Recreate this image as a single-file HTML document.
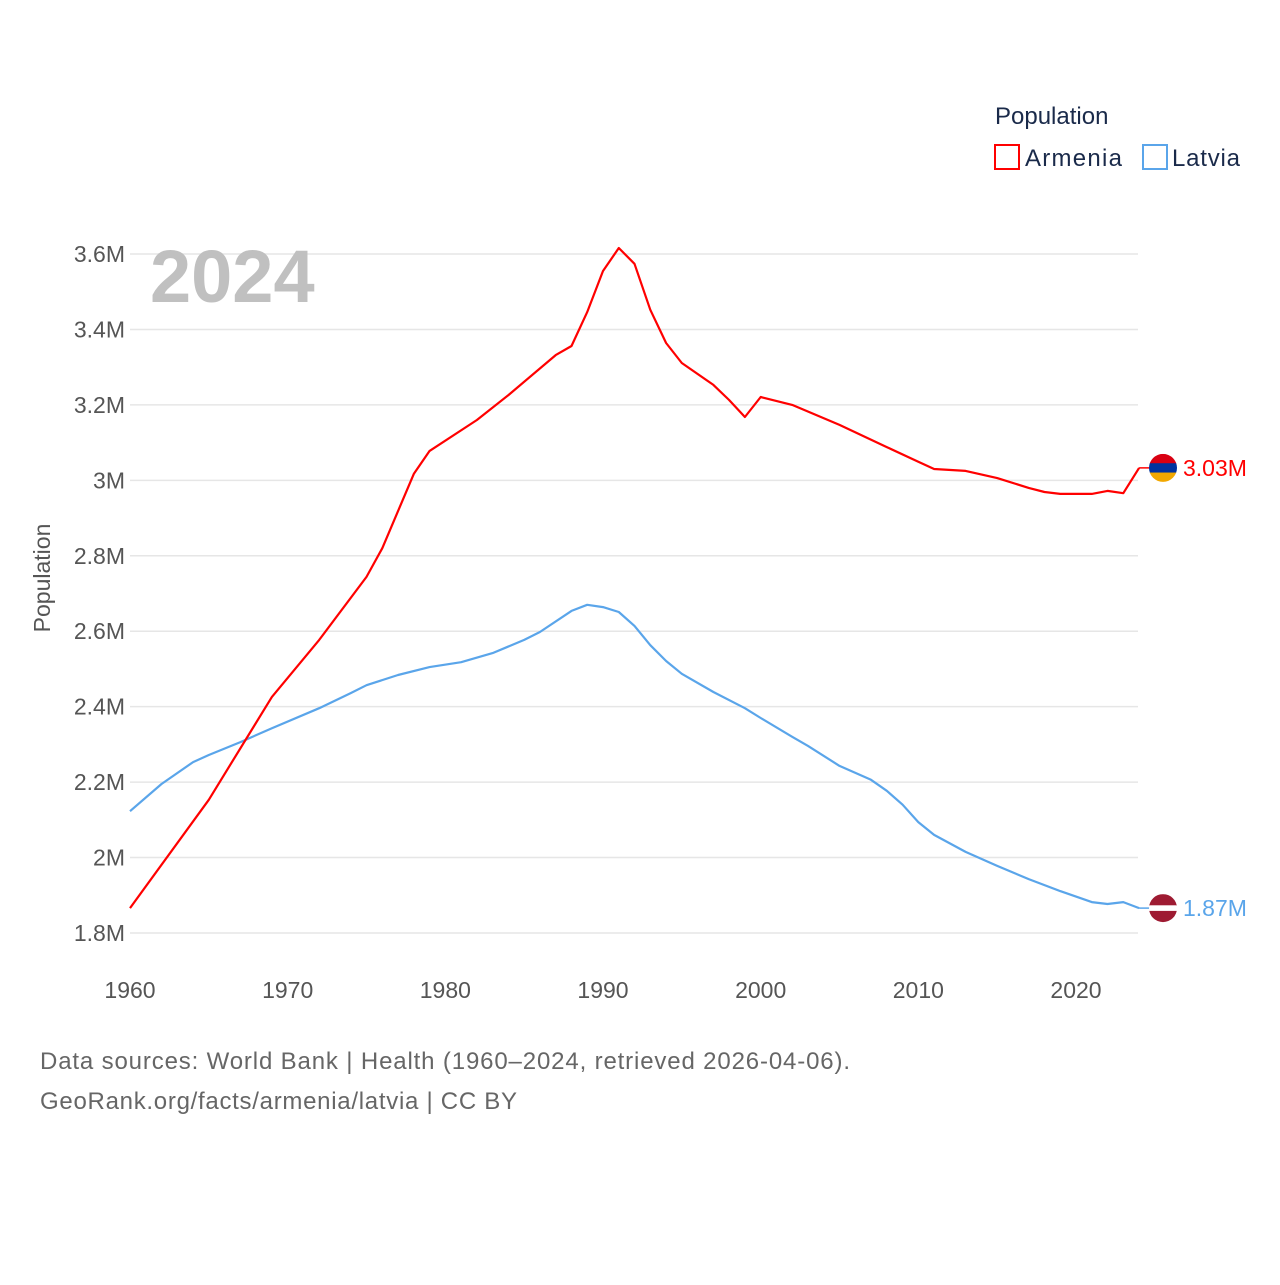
<!DOCTYPE html>
<html><head><meta charset="utf-8"><style>
body{margin:0;background:#fff;font-family:"Liberation Sans",sans-serif}
svg text{font-family:"Liberation Sans",sans-serif}
</style></head><body>
<svg id="chart" width="1280" height="1280">
<g id="grid"></g>
<g id="yticks"></g>
<g id="xticks"></g>
<text x="150" y="302" font-size="74" font-weight="bold" fill="#c0c0c0">2024</text>
<text transform="translate(50,578) rotate(-90)" text-anchor="middle" font-size="23" fill="#555">Population</text>
<g id="series"></g>
<g>
<text x="995" y="124" font-size="24" fill="#1a2a4a">Population</text>
<g><rect x="995" y="145" width="24" height="24" fill="none" stroke="#ff0000" stroke-width="2"/><text x="1025" y="166" font-size="24" fill="#1a2a4a" textLength="97">Armenia</text></g>
<g><rect x="1143" y="145" width="24" height="24" fill="none" stroke="#5aa5ea" stroke-width="2"/><text x="1172" y="166" font-size="24" fill="#1a2a4a" textLength="68">Latvia</text></g>
</g>
<text x="40" y="1069" font-size="24" fill="#666" textLength="810">Data sources: World Bank | Health (1960–2024, retrieved 2026-04-06).</text>
<text x="40" y="1109" font-size="24" fill="#666" textLength="477">GeoRank.org/facts/armenia/latvia | CC BY</text>
</svg>
<script>
const yTicks=[1.8,2.0,2.2,2.4,2.6,2.8,3.0,3.2,3.4,3.6];
const yTickLabels=["1.8M","2M","2.2M","2.4M","2.6M","2.8M","3M","3.2M","3.4M","3.6M"];
const xTicks=[1960,1970,1980,1990,2000,2010,2020];
const armeniaYears=[1960,1965,1969,1972,1975,1976,1978,1979,1982,1984,1987,1988,1989,1990,1991,1992,1993,1994,1995,1997,1998,1999,2000,2002,2005,2008,2010,2011,2013,2015,2017,2018,2019,2021,2022,2023,2024];
const armeniaValues=[1.866,2.153,2.426,2.577,2.744,2.82,3.017,3.078,3.16,3.226,3.332,3.356,3.446,3.555,3.616,3.574,3.452,3.364,3.311,3.253,3.213,3.168,3.221,3.2,3.147,3.088,3.049,3.03,3.025,3.006,2.98,2.969,2.964,2.964,2.972,2.966,3.033];
const latviaYears=[1960,1962,1964,1965,1967,1969,1972,1974,1975,1977,1979,1981,1983,1985,1986,1988,1989,1990,1991,1992,1993,1994,1995,1997,1999,2000,2002,2003,2005,2007,2008,2009,2010,2011,2013,2015,2017,2019,2021,2022,2023,2024];
const latviaValues=[2.123,2.195,2.253,2.272,2.306,2.343,2.396,2.436,2.457,2.484,2.505,2.518,2.542,2.577,2.598,2.654,2.670,2.664,2.651,2.614,2.563,2.521,2.487,2.439,2.396,2.37,2.32,2.296,2.243,2.206,2.177,2.14,2.094,2.06,2.015,1.978,1.943,1.911,1.882,1.877,1.882,1.866];
const NS="http://www.w3.org/2000/svg";
const xS=y=>130+(y-1960)*(1076-130)/60;
const yS=v=>933-(v-1.8)*(933-254)/1.8;
function mk(t,a,p){const e=document.createElementNS(NS,t);for(const k in a)e.setAttribute(k,a[k]);p.appendChild(e);return e;}
const grid=document.getElementById('grid'),yt=document.getElementById('yticks'),xt=document.getElementById('xticks'),ser=document.getElementById('series');
yTicks.forEach((v,i)=>{
 const l=mk('line',{x1:130,x2:1138,y1:yS(v),y2:yS(v),stroke:'#e6e6e6','stroke-width':1.5},grid);
 
 
 const t=mk('text',{x:125,y:yS(v)+8,'text-anchor':'end','font-size':23,fill:'#555'},yt);t.textContent=yTickLabels[i];
 
 
});
xTicks.forEach(y=>{
 const t=mk('text',{x:xS(y),y:998,'text-anchor':'middle','font-size':23,fill:'#555'},xt);t.textContent=y;
 
 
});
function line(years,vals,color,name,flag){
 const d=years.map((y,i)=>(i?'L':'M')+xS(y).toFixed(1)+' '+yS(vals[i]).toFixed(1)).join(' ');
 const p=mk('path',{d:d,fill:'none',stroke:color,'stroke-width':2.2,'stroke-linejoin':'round'},ser);
 
 
 const lv=vals[vals.length-1],ly=yS(lv),lx=xS(years[years.length-1]);
 mk('line',{x1:lx,x2:1150,y1:ly,y2:ly,stroke:color,'stroke-width':1.5},ser);
 const g=mk('g',{},ser);
 
 
 const id='c'+name;
 const cp=mk('clipPath',{id:id},g);mk('circle',{cx:1163,cy:ly,r:14},cp);
 flag.forEach((c,i)=>mk('rect',{x:1149,y:ly-14+i*28/flag.length,width:28,height:28/flag.length+0.5,fill:c,'clip-path':'url(#'+id+')'},g));
 const t=mk('text',{x:1183,y:ly+8,'font-size':23,fill:color},ser);t.textContent=lv.toFixed(2)+'M';
 
 
}
line(latviaYears,latviaValues,'#5aa5ea','latvia',['#9e1b32','#9e1b32','#fff','#9e1b32','#9e1b32']);
line(armeniaYears,armeniaValues,'#ff0000','armenia',['#d90012','#0033a0','#f2a800']);
</script>
</body></html>
